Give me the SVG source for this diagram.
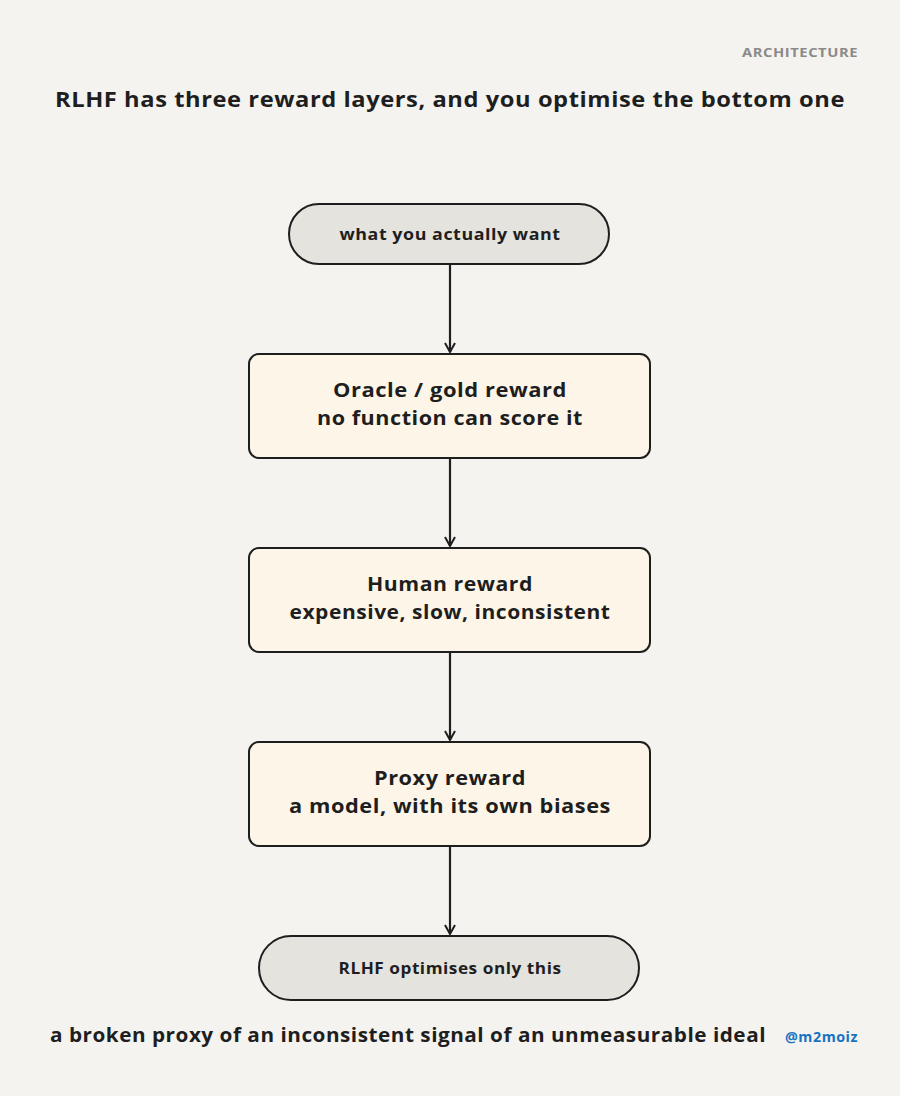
<svg xmlns="http://www.w3.org/2000/svg" width="900" height="1096" viewBox="0 0 900 1096">
<defs>
<style>
text{font-family:"Open Sans","Liberation Sans",sans-serif;font-weight:bold;fill:#1e1e1e;text-anchor:middle;letter-spacing:0.5px}
.box{fill:#fdf6e8;stroke:#1e1e1e;stroke-width:2}
.pill{fill:#e4e3de;stroke:#1e1e1e;stroke-width:2}
.c{stroke:#1e1e1e;stroke-width:2.2;fill:none}
.t{font-size:20px}
</style>
<marker id="ah" viewBox="0 0 12 12" refX="10" refY="6" markerWidth="12" markerHeight="12" markerUnits="userSpaceOnUse" orient="auto"><path d="M1,1 L10,6 L1,11" fill="none" stroke="#1e1e1e" stroke-width="2"/></marker>
</defs>
<rect width="900" height="1096" fill="#f4f3ef"/>
<text x="858" y="57" style="font-size:13px;fill:#8a8a8a;text-anchor:end" textLength="116" lengthAdjust="spacingAndGlyphs">ARCHITECTURE</text>
<text x="450" y="107" style="font-size:21px" textLength="790" lengthAdjust="spacingAndGlyphs">RLHF has three reward layers, and you optimise the bottom one</text>
<g id="connectors">
<path class="c" d="M450,264 L450,352" marker-end="url(#ah)"/>
<path class="c" d="M450,458 L450,546" marker-end="url(#ah)"/>
<path class="c" d="M450,652 L450,740" marker-end="url(#ah)"/>
<path class="c" d="M450,846 L450,934" marker-end="url(#ah)"/>
</g>
<g id="want"><rect class="pill" x="289" y="204" width="320" height="60" rx="30"/><text x="450" y="240" style="font-size:16px" textLength="221" lengthAdjust="spacingAndGlyphs">what you actually want</text></g>
<g id="oracle"><rect class="box" x="249" y="354" width="401" height="104" rx="10"/><text class="t" x="450" y="397" textLength="234" lengthAdjust="spacingAndGlyphs">Oracle / gold reward</text><text class="t" x="450" y="425" textLength="266" lengthAdjust="spacingAndGlyphs">no function can score it</text></g>
<g id="human"><rect class="box" x="249" y="548" width="401" height="104" rx="10"/><text class="t" x="450" y="591" textLength="166" lengthAdjust="spacingAndGlyphs">Human reward</text><text class="t" x="450" y="619" textLength="321" lengthAdjust="spacingAndGlyphs">expensive, slow, inconsistent</text></g>
<g id="proxy"><rect class="box" x="249" y="742" width="401" height="104" rx="10"/><text class="t" x="450" y="785" textLength="152" lengthAdjust="spacingAndGlyphs">Proxy reward</text><text class="t" x="450" y="813" textLength="322" lengthAdjust="spacingAndGlyphs">a model, with its own biases</text></g>
<g id="rlhf"><rect class="pill" x="259" y="936" width="380" height="64" rx="32"/><text x="450" y="974" style="font-size:16px" textLength="223" lengthAdjust="spacingAndGlyphs">RLHF optimises only this</text></g>
<text x="408" y="1042" style="font-size:20px" textLength="716" lengthAdjust="spacingAndGlyphs">a broken proxy of an inconsistent signal of an unmeasurable ideal</text>
<text x="858" y="1042" style="font-size:14px;fill:#1971c2;text-anchor:end" textLength="73" lengthAdjust="spacingAndGlyphs">@m2moiz</text>
</svg>
